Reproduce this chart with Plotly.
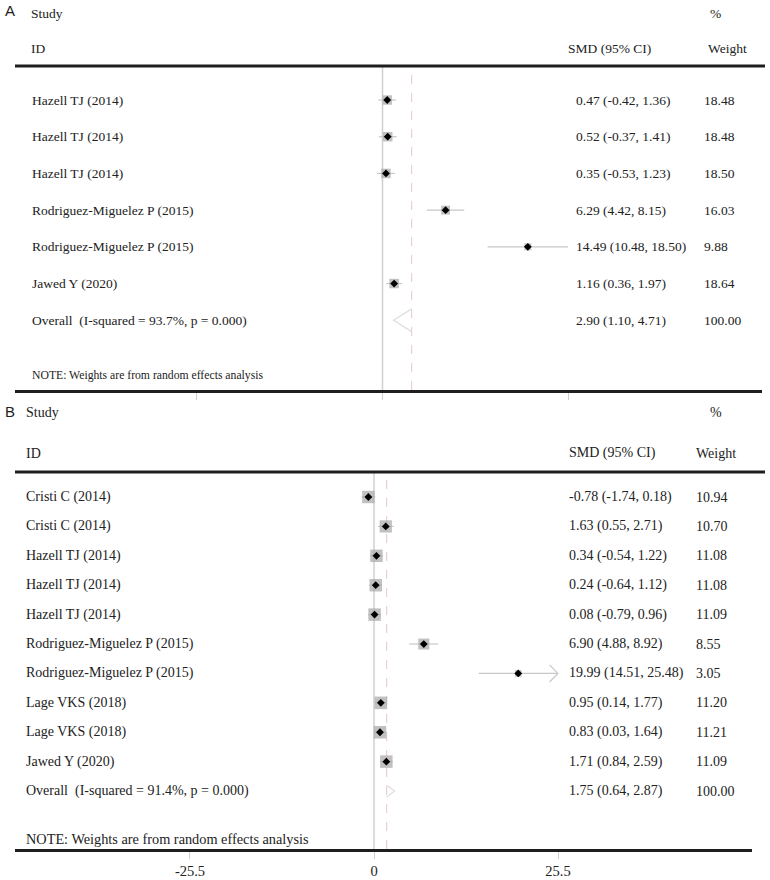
import plotly.graph_objects as go

# ---------------- data ----------------
studies_A = ["Hazell TJ (2014)", "Hazell TJ (2014)", "Hazell TJ (2014)",
             "Rodriguez-Miguelez P (2015)", "Rodriguez-Miguelez P (2015)", "Jawed Y (2020)"]
smd_A = [0.47, 0.52, 0.35, 6.29, 14.49, 1.16]
lcl_A = [-0.42, -0.37, -0.53, 4.42, 10.48, 0.36]
ucl_A = [1.36, 1.41, 1.23, 8.15, 18.50, 1.97]
wt_A = [18.48, 18.48, 18.50, 16.03, 9.88, 18.64]
overall_A = {"label": "Overall\u00a0 (I-squared = 93.7%, p = 0.000)", "est": 2.90, "lcl": 1.10, "ucl": 4.71, "wt": 100.00}
ticks_A = [-18.5, 0, 18.5]

studies_B = ["Cristi C (2014)", "Cristi C (2014)", "Hazell TJ (2014)", "Hazell TJ (2014)", "Hazell TJ (2014)",
             "Rodriguez-Miguelez P (2015)", "Rodriguez-Miguelez P (2015)", "Lage VKS (2018)",
             "Lage VKS (2018)", "Jawed Y (2020)"]
smd_B = [-0.78, 1.63, 0.34, 0.24, 0.08, 6.90, 19.99, 0.95, 0.83, 1.71]
lcl_B = [-1.74, 0.55, -0.54, -0.64, -0.79, 4.88, 14.51, 0.14, 0.03, 0.84]
ucl_B = [0.18, 2.71, 1.22, 1.12, 0.96, 8.92, 25.48, 1.77, 1.64, 2.59]
wt_B = [10.94, 10.70, 11.08, 11.08, 11.09, 8.55, 3.05, 11.20, 11.21, 11.09]
overall_B = {"label": "Overall\u00a0 (I-squared = 91.4%, p = 0.000)", "est": 1.75, "lcl": 0.64, "ucl": 2.87, "wt": 100.00}
ticks_B = [-25.5, 0, 25.5]
ticklabels_B = ["-25.5", "0", "25.5"]
arrow_rows_B = [7]  # CI truncated with arrow at upper end

# ---------------- style ----------------
W, H = 770, 880
SERIF = "Liberation Serif"
SANS = "Liberation Sans"
TXT = "#222222"


def py(p):
    return 1 - p / H


def px(p):
    return p / W


fig = go.Figure()
annotations = []
shapes = []


def panel(names, est, lcl, ucl, wt, overall, xa, ya, box_k, col_ci, col_wt, name_x, diamond_side, dia_h, fs):
    n = len(names)
    rows = list(range(1, n + 1))
    orow = n + 1
    font = dict(family=SERIF, size=fs, color=TXT)
    # CI lines
    fig.add_trace(go.Scatter(
        x=est, y=rows, mode="markers", marker=dict(size=1, color="rgba(0,0,0,0)"),
        error_x=dict(type="data", symmetric=False,
                     array=[u - e for u, e in zip(ucl, est)],
                     arrayminus=[e - l for e, l in zip(est, lcl)],
                     color="#c8c8c8", thickness=1.2, width=0),
        xaxis=xa, yaxis=ya, hoverinfo="skip", showlegend=False))
    # weight boxes
    fig.add_trace(go.Scatter(
        x=est, y=rows, mode="markers",
        marker=dict(symbol="square", size=[box_k * w ** 0.5 for w in wt], color="#a6a6a6",
                    line=dict(width=0)),
        xaxis=xa, yaxis=ya, hoverinfo="skip", showlegend=False))
    # point estimates
    fig.add_trace(go.Scatter(
        x=est, y=rows, mode="markers",
        marker=dict(symbol="diamond", size=6, color="black", line=dict(width=0)),
        xaxis=xa, yaxis=ya, hoverinfo="skip", showlegend=False))
    # overall diamond (visible half)
    e, l, u = overall["est"], overall["lcl"], overall["ucl"]
    tip = l if diamond_side == "left" else u
    fig.add_trace(go.Scatter(
        x=[e, tip, e], y=[orow - dia_h, orow, orow + dia_h], mode="lines",
        line=dict(color="#dedede", width=1.2),
        xaxis=xa, yaxis=ya, hoverinfo="skip", showlegend=False))
    # vertical lines
    xr = "x" if xa == "x" else "x2"
    yd = ("y" if ya == "y" else "y2") + " domain"
    shapes.append(dict(type="line", xref=xr, yref=yd, x0=0, x1=0, y0=0, y1=1,
                       line=dict(color="#d0d0d0", width=1.5), layer="below"))
    shapes.append(dict(type="line", xref=xr, yref=yd, x0=e, x1=e, y0=0, y1=1,
                       line=dict(color="#e6d0d3", width=1.2, dash="dash"), layer="below"))
    # row texts
    yr = "y" if ya == "y" else "y2"
    for r, nm, es, lo, hi, w in zip(rows, names, est, lcl, ucl, wt):
        annotations.append(dict(x=px(name_x), y=r, xref="paper", yref=yr, text=nm, showarrow=False,
                                xanchor="left", yanchor="middle", font=font))
        annotations.append(dict(x=px(col_ci), y=r, xref="paper", yref=yr,
                                text=f"{es:.2f} ({lo:.2f}, {hi:.2f})", showarrow=False,
                                xanchor="left", yanchor="middle", font=font))
        annotations.append(dict(x=px(col_wt), y=r, xref="paper", yref=yr, text=f"{w:.2f}", showarrow=False,
                                xanchor="left", yanchor="middle", font=font))
    annotations.append(dict(x=px(name_x), y=orow, xref="paper", yref=yr, text=overall["label"], showarrow=False,
                            xanchor="left", yanchor="middle", font=font))
    annotations.append(dict(x=px(col_ci), y=orow, xref="paper", yref=yr,
                            text=f"{e:.2f} ({l:.2f}, {u:.2f})", showarrow=False,
                            xanchor="left", yanchor="middle", font=font))
    annotations.append(dict(x=px(col_wt), y=orow, xref="paper", yref=yr, text=f"{overall['wt']:.2f}",
                            showarrow=False, xanchor="left", yanchor="middle", font=font))


# Panel A
panel(studies_A, smd_A, lcl_A, ucl_A, wt_A, overall_A, "x", "y", 2.2, 574, 702, 30, "left", 0.31, 13.5)
# Panel B
panel(studies_B, smd_B, lcl_B, ucl_B, wt_B, overall_B, "x2", "y2", 3.75, 567, 694, 24, "right", 0.2, 14)

# arrow heads for truncated CIs in B
for r in arrow_rows_B:
    u = ucl_B[r - 1]
    fig.add_trace(go.Scatter(
        x=[u - 1.15, u, u - 1.15], y=[r - 0.29, r, r + 0.29], mode="lines",
        line=dict(color="#c8c8c8", width=1.2), xaxis="x2", yaxis="y2",
        hoverinfo="skip", showlegend=False))


def header(x, y, text, family=SERIF, size=13.5):
    annotations.append(dict(x=px(x), y=py(y), xref="paper", yref="paper", text=text, showarrow=False,
                            xanchor="left", yanchor="middle", font=dict(family=family, size=size, color=TXT)))


# headers A
header(3, 11, "A", SANS, 15)
header(29, 14, "Study")
header(708, 14, "%")
header(29, 48, "ID")
header(566, 48, "SMD (95% CI)")
header(706, 48, "Weight")
header(30, 375, "NOTE: Weights are from random effects analysis", size=11.7)
# headers B
header(3, 411, "B", SANS, 15)
header(24, 413, "Study", size=14)
header(708, 413, "%", size=14)
header(24, 453, "ID", size=14)
header(567, 453, "SMD (95% CI)", size=14)
header(694, 453, "Weight", size=14)
header(24, 839, "NOTE: Weights are from random effects analysis", size=14.3)

# thick top rules
shapes.append(dict(type="line", xref="paper", yref="paper", x0=px(15), x1=px(765), y0=py(66), y1=py(66),
                   line=dict(color="#1e1e1e", width=3)))
shapes.append(dict(type="line", xref="paper", yref="paper", x0=px(15), x1=px(765), y0=py(472), y1=py(472),
                   line=dict(color="#1e1e1e", width=3)))

# axes
A0, A_scale = 382.5, 10.03
B0, B_scale = 374.0, 7.216
xA = [15, 762]
xB = [15, 752]
fig.update_layout(
    width=W, height=H, margin=dict(l=0, r=0, t=0, b=0),
    paper_bgcolor="white", plot_bgcolor="white", showlegend=False,
    xaxis=dict(domain=[px(xA[0]), px(xA[1])],
               range=[(xA[0] - A0) / A_scale, (xA[1] - A0) / A_scale],
               anchor="y", showline=True, linecolor="#1e1e1e", linewidth=3,
               ticks="outside", tickvals=ticks_A, ticklen=7, tickwidth=1, tickcolor="#cfcfcf",
               showticklabels=False, showgrid=False, zeroline=False, fixedrange=True),
    yaxis=dict(domain=[py(390), py(66)], range=[8.90, 0.0736], anchor="x",
               visible=False, showgrid=False, zeroline=False, fixedrange=True),
    xaxis2=dict(domain=[px(xB[0]), px(xB[1])],
                range=[(xB[0] - B0) / B_scale, (xB[1] - B0) / B_scale],
                anchor="y2", showline=True, linecolor="#1e1e1e", linewidth=3,
                ticks="outside", tickvals=ticks_B, ticktext=ticklabels_B, ticklen=7, tickwidth=1,
                tickcolor="#cfcfcf", tickfont=dict(family=SERIF, size=14.5, color=TXT),
                showgrid=False, zeroline=False, fixedrange=True),
    yaxis2=dict(domain=[py(849), py(472)], range=[12.97, 0.150], anchor="x2",
                visible=False, showgrid=False, zeroline=False, fixedrange=True),
    annotations=annotations, shapes=shapes,
)

fig.write_html("out.html", config={"displayModeBar": False},
               post_script="document.body.style.margin='0';document.body.style.overflow='hidden';")
